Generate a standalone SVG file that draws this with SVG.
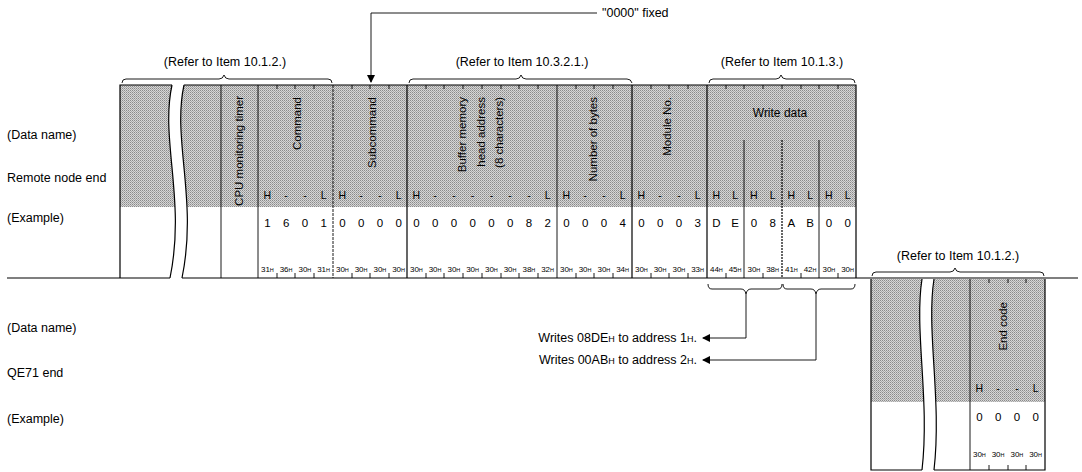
<svg xmlns="http://www.w3.org/2000/svg" width="1082" height="472" viewBox="0 0 1082 472">
<defs>
<pattern id="dots" width="2" height="2" patternUnits="userSpaceOnUse"><rect width="2" height="2" fill="#d6d6d6"/><rect width="1" height="1" fill="#8a8a8a"/><rect x="1" y="1" width="1" height="1" fill="#a8a8a8"/></pattern>
<marker id="ah" markerWidth="8" markerHeight="8" refX="7" refY="4" orient="auto" markerUnits="userSpaceOnUse"><path d="M0,0 L8,4 L0,8 Z" fill="#000"/></marker>
</defs>
<style>
text{font-family:"Liberation Sans",Arial,sans-serif;fill:#000}
.lbl{font-size:12.5px}
.vt{font-size:11.5px;text-anchor:end}
.hl{font-size:10.5px;text-anchor:middle}
.dg{font-size:11.5px;text-anchor:middle}
.as{font-size:8px;text-anchor:middle}
.sub{font-size:5.5px}
.ln{stroke:#000;fill:none;stroke-width:1.2}
.thin{stroke:#000;fill:none;stroke-width:0.9}
.shade{fill:url(#dots)}
</style>
<rect width="1082" height="472" fill="#fff"/>
<g id="labels">
<text class="lbl" x="7" y="139">(Data name)</text>
<text class="lbl" x="7" y="182">Remote node end</text>
<text class="lbl" x="7" y="222">(Example)</text>
<text class="lbl" x="7" y="332">(Data name)</text>
<text class="lbl" x="7" y="377">QE71 end</text>
<text class="lbl" x="7" y="423">(Example)</text>
</g>
<g id="remote-frame">
<rect class="shade" x="120" y="85" width="736" height="122"/>
<path d="M172,85 C160,140 186,200 170,278 L182,278 C198,200 172,140 184,85 Z" fill="#fff"/>
<path class="ln" d="M172,85 C160,140 186,200 170,278"/>
<path class="ln" d="M184,85 C172,140 198,200 182,278"/>
<path class="ln" d="M120,278 L120,85 L172,85 M184,85 L856,85 L856,278"/>
<path class="ln" d="M7,278 L170,278 M182,278 L1078,278"/>
<line class="thin" x1="221" y1="85" x2="221" y2="278"/>
<line class="thin" x1="258" y1="85" x2="258" y2="278"/>
<line class="thin" x1="333" y1="85" x2="333" y2="278" stroke-dasharray="3,1"/>
<line class="ln" x1="407" y1="85" x2="407" y2="278"/>
<line class="thin" x1="557" y1="85" x2="557" y2="278"/>
<line class="ln" x1="632" y1="85" x2="632" y2="278"/>
<line class="ln" x1="707" y1="85" x2="707" y2="278"/>
<line class="thin" x1="744" y1="140" x2="744" y2="278"/>
<line class="ln" x1="782" y1="140" x2="782" y2="278" stroke-dasharray="2,1"/>
<line class="thin" x1="819" y1="140" x2="819" y2="278"/>
<path class="thin" d="M277,85v4M295,85v4M314,85v4M352,85v4M370,85v4M389,85v4M426,85v4M444,85v4M463,85v4M482,85v4M501,85v4M519,85v4M538,85v4M576,85v4M594,85v4M613,85v4M651,85v4M669,85v4M688,85v4M726,85v4M744,85v4M763,85v4M782,85v4M801,85v4M819,85v4M838,85v4"/>
<path class="thin" d="M277,273v5M295,273v5M314,273v5M352,273v5M370,273v5M389,273v5M426,273v5M444,273v5M463,273v5M482,273v5M501,273v5M519,273v5M538,273v5M576,273v5M594,273v5M613,273v5M651,273v5M669,273v5M688,273v5M726,273v5M763,273v5M801,273v5M838,273v5"/>
<text class="vt" transform="translate(243,96) rotate(-90)">CPU monitoring timer</text>
<text class="vt" transform="translate(301,97) rotate(-90)">Command</text>
<text class="vt" transform="translate(376,97) rotate(-90)">Subcommand</text>
<text class="vt" transform="translate(466,97) rotate(-90)">Buffer memory</text>
<text class="vt" transform="translate(485,97) rotate(-90)">head address</text>
<text class="vt" transform="translate(503,97) rotate(-90)">(8 characters)</text>
<text class="vt" transform="translate(597,97) rotate(-90)">Number of bytes</text>
<text class="vt" transform="translate(671,97) rotate(-90)">Module No.</text>
<text x="780" y="117" style="font-size:12px;text-anchor:middle">Write data</text>
<g class="hlrow">
<text class="hl" x="267.4" y="199">H</text><text class="hl" x="286.1" y="199">-</text><text class="hl" x="304.9" y="199">-</text><text class="hl" x="323.6" y="199">L</text>
<text class="hl" x="342.4" y="199">H</text><text class="hl" x="361.1" y="199">-</text><text class="hl" x="379.9" y="199">-</text><text class="hl" x="398.6" y="199">L</text>
<text class="hl" x="416.4" y="199">H</text><text class="hl" x="435.1" y="199">-</text><text class="hl" x="453.9" y="199">-</text><text class="hl" x="472.6" y="199">-</text><text class="hl" x="491.4" y="199">-</text><text class="hl" x="510.1" y="199">-</text><text class="hl" x="528.9" y="199">-</text><text class="hl" x="547.6" y="199">L</text>
<text class="hl" x="566.4" y="199">H</text><text class="hl" x="585.1" y="199">-</text><text class="hl" x="603.9" y="199">-</text><text class="hl" x="622.6" y="199">L</text>
<text class="hl" x="641.4" y="199">H</text><text class="hl" x="660.1" y="199">-</text><text class="hl" x="678.9" y="199">-</text><text class="hl" x="697.6" y="199">L</text>
<text class="hl" x="716.4" y="199">H</text><text class="hl" x="735.1" y="199">L</text><text class="hl" x="753.9" y="199">H</text><text class="hl" x="772.6" y="199">L</text><text class="hl" x="791.4" y="199">H</text><text class="hl" x="810.1" y="199">L</text><text class="hl" x="828.9" y="199">H</text><text class="hl" x="847.6" y="199">L</text>
</g>
<g class="digits">
<text class="dg" x="267.4" y="227">1</text><text class="dg" x="286.1" y="227">6</text><text class="dg" x="304.9" y="227">0</text><text class="dg" x="323.6" y="227">1</text>
<text class="dg" x="342.4" y="227">0</text><text class="dg" x="361.1" y="227">0</text><text class="dg" x="379.9" y="227">0</text><text class="dg" x="398.6" y="227">0</text>
<text class="dg" x="416.4" y="227">0</text><text class="dg" x="435.1" y="227">0</text><text class="dg" x="453.9" y="227">0</text><text class="dg" x="472.6" y="227">0</text><text class="dg" x="491.4" y="227">0</text><text class="dg" x="510.1" y="227">0</text><text class="dg" x="528.9" y="227">8</text><text class="dg" x="547.6" y="227">2</text>
<text class="dg" x="566.4" y="227">0</text><text class="dg" x="585.1" y="227">0</text><text class="dg" x="603.9" y="227">0</text><text class="dg" x="622.6" y="227">4</text>
<text class="dg" x="641.4" y="227">0</text><text class="dg" x="660.1" y="227">0</text><text class="dg" x="678.9" y="227">0</text><text class="dg" x="697.6" y="227">3</text>
<text class="dg" x="716.4" y="227">D</text><text class="dg" x="735.1" y="227">E</text><text class="dg" x="753.9" y="227">0</text><text class="dg" x="772.6" y="227">8</text><text class="dg" x="791.4" y="227">A</text><text class="dg" x="810.1" y="227">B</text><text class="dg" x="828.9" y="227">0</text><text class="dg" x="847.6" y="227">0</text>
</g>
<g class="ascii">
<text class="as" x="267.4" y="272">31<tspan class="sub">H</tspan></text><text class="as" x="286.1" y="272">36<tspan class="sub">H</tspan></text><text class="as" x="304.9" y="272">30<tspan class="sub">H</tspan></text><text class="as" x="323.6" y="272">31<tspan class="sub">H</tspan></text>
<text class="as" x="342.4" y="272">30<tspan class="sub">H</tspan></text><text class="as" x="361.1" y="272">30<tspan class="sub">H</tspan></text><text class="as" x="379.9" y="272">30<tspan class="sub">H</tspan></text><text class="as" x="398.6" y="272">30<tspan class="sub">H</tspan></text>
<text class="as" x="416.4" y="272">30<tspan class="sub">H</tspan></text><text class="as" x="435.1" y="272">30<tspan class="sub">H</tspan></text><text class="as" x="453.9" y="272">30<tspan class="sub">H</tspan></text><text class="as" x="472.6" y="272">30<tspan class="sub">H</tspan></text><text class="as" x="491.4" y="272">30<tspan class="sub">H</tspan></text><text class="as" x="510.1" y="272">30<tspan class="sub">H</tspan></text><text class="as" x="528.9" y="272">38<tspan class="sub">H</tspan></text><text class="as" x="547.6" y="272">32<tspan class="sub">H</tspan></text>
<text class="as" x="566.4" y="272">30<tspan class="sub">H</tspan></text><text class="as" x="585.1" y="272">30<tspan class="sub">H</tspan></text><text class="as" x="603.9" y="272">30<tspan class="sub">H</tspan></text><text class="as" x="622.6" y="272">34<tspan class="sub">H</tspan></text>
<text class="as" x="641.4" y="272">30<tspan class="sub">H</tspan></text><text class="as" x="660.1" y="272">30<tspan class="sub">H</tspan></text><text class="as" x="678.9" y="272">30<tspan class="sub">H</tspan></text><text class="as" x="697.6" y="272">33<tspan class="sub">H</tspan></text>
<text class="as" x="716.4" y="272">44<tspan class="sub">H</tspan></text><text class="as" x="735.1" y="272">45<tspan class="sub">H</tspan></text><text class="as" x="753.9" y="272">30<tspan class="sub">H</tspan></text><text class="as" x="772.6" y="272">38<tspan class="sub">H</tspan></text><text class="as" x="791.4" y="272">41<tspan class="sub">H</tspan></text><text class="as" x="810.1" y="272">42<tspan class="sub">H</tspan></text><text class="as" x="828.9" y="272">30<tspan class="sub">H</tspan></text><text class="as" x="847.6" y="272">30<tspan class="sub">H</tspan></text>
</g>
</g>
<g id="qe71-frame">
<rect class="shade" x="871" y="279" width="174" height="123"/>
<path d="M922,279 C914,330 930,400 922,470 L934,470 C942,400 926,330 934,279 Z" fill="#fff"/>
<path class="ln" d="M922,279 C914,330 930,400 922,470"/>
<path class="ln" d="M934,279 C926,330 942,400 934,470"/>
<path class="ln" d="M922,470 L871,470 L871,279 M934,470 L1045,470 L1045,279"/>
<line class="thin" x1="970" y1="279" x2="970" y2="470"/>
<path class="thin" d="M989,279v4M1008,279v4M1026,279v4M989,465v5M1008,465v5M1026,465v5"/>
<text class="vt" transform="translate(1007,302) rotate(-90)">End code</text>
<text class="hl" x="979.4" y="392">H</text><text class="hl" x="998.1" y="392">-</text><text class="hl" x="1016.9" y="392">-</text><text class="hl" x="1035.6" y="392">L</text>
<text class="dg" x="979.4" y="421">0</text><text class="dg" x="998.1" y="421">0</text><text class="dg" x="1016.9" y="421">0</text><text class="dg" x="1035.6" y="421">0</text>
<text class="as" x="979.4" y="457">30<tspan class="sub">H</tspan></text><text class="as" x="998.1" y="457">30<tspan class="sub">H</tspan></text><text class="as" x="1016.9" y="457">30<tspan class="sub">H</tspan></text><text class="as" x="1035.6" y="457">30<tspan class="sub">H</tspan></text>
</g>
<g id="annotations">
<text class="lbl" x="225" y="66" text-anchor="middle">(Refer to Item 10.1.2.)</text>
<text class="lbl" x="522" y="66" text-anchor="middle">(Refer to Item 10.3.2.1.)</text>
<text class="lbl" x="782" y="66" text-anchor="middle">(Refer to Item 10.1.3.)</text>
<text class="lbl" x="958" y="260" text-anchor="middle">(Refer to Item 10.1.2.)</text>
<text class="lbl" x="602" y="17">"0000" fixed</text>
<text class="lbl" x="697" y="342" text-anchor="end">Writes 08DE<tspan style="font-size:9px">H</tspan> to address 1<tspan style="font-size:9px">H</tspan>.</text>
<text class="lbl" x="697" y="364" text-anchor="end">Writes 00AB<tspan style="font-size:9px">H</tspan> to address 2<tspan style="font-size:9px">H</tspan>.</text>
</g>
<g id="connectors">
<path class="thin" d="M122,83 Q122,79 126,79 L219,79 Q223,79 224,75 Q225,79 229,79 L328,79 Q332,79 332,83"/>
<path class="thin" d="M409,83 Q409,79 413,79 L516,79 Q520,79 521,75 Q522,79 526,79 L627,79 Q631,79 632,83"/>
<path class="thin" d="M709,83 Q709,79 713,79 L776,79 Q780,79 781,75 Q782,79 786,79 L851,79 Q855,79 855,83"/>
<path class="thin" d="M872,276 Q872,272 876,272 L950,272 Q954,272 955,268 Q956,272 960,272 L1040,272 Q1044,272 1044,276"/>
<path class="thin" d="M708,284 Q708,289 712,289 L741,289 Q745,289 746,294 Q747,289 751,289 L778,289 Q782,289 782,284"/>
<path class="thin" d="M783,284 Q783,289 787,289 L811,289 Q815,289 816,294 Q817,289 821,289 L851,289 Q855,289 855,284"/>
<path class="thin" d="M597,13 L371,13 L371,82" marker-end="url(#ah)"/>
<path class="thin" d="M746,294 L746,338 L703,338" marker-end="url(#ah)"/>
<path class="thin" d="M816,294 L816,360 L703,360" marker-end="url(#ah)"/>
</g>
</svg>
